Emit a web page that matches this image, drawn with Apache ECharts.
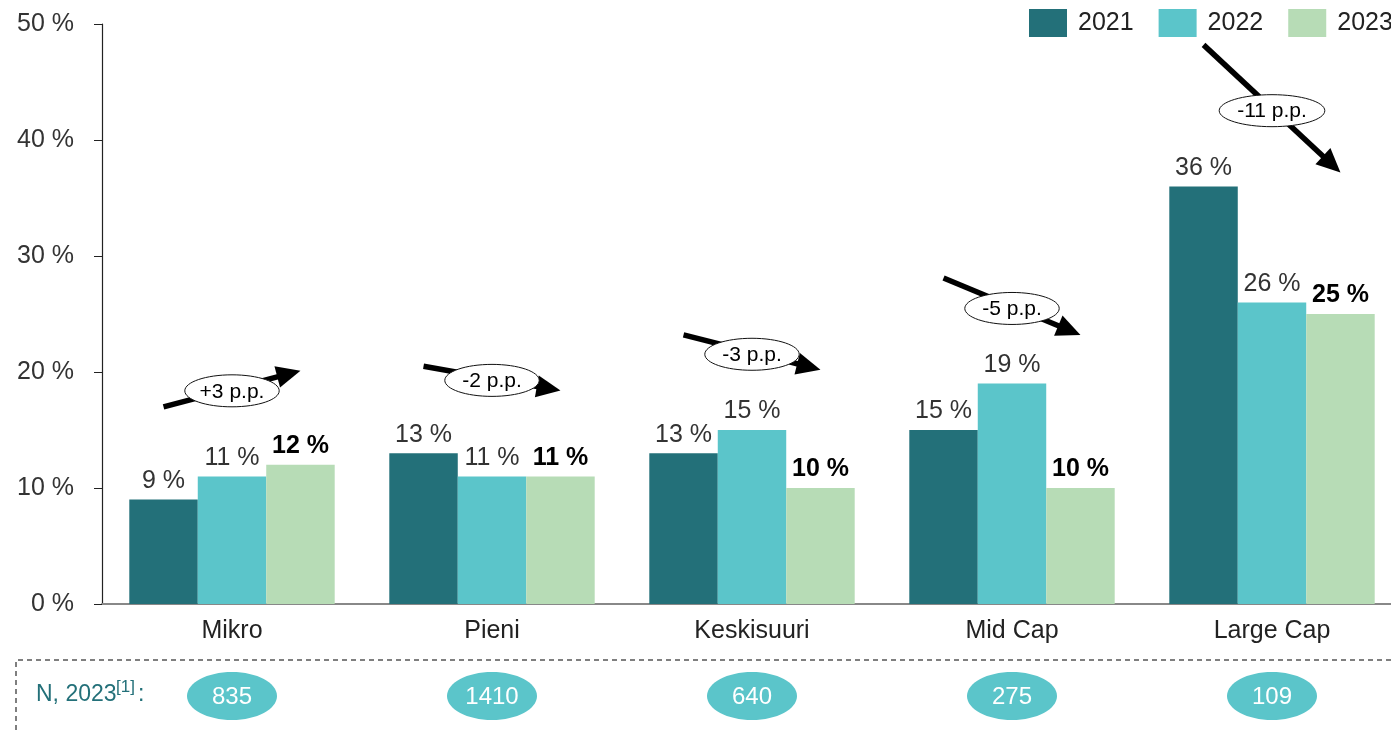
<!DOCTYPE html>
<html>
<head>
<meta charset="utf-8">
<script src="https://cdn.jsdelivr.net/npm/echarts@6/dist/echarts.min.js"></script>
<style>
html,body{margin:0;padding:0;background:#fff;overflow:hidden;width:1391px;height:730px;}
#chart{width:1402px;height:730px;}
</style>
</head>
<body>
<div id="chart"></div>
<script>
// ---- data ----
const categories = ['Mikro', 'Pieni', 'Keskisuuri', 'Mid Cap', 'Large Cap'];
const seriesNames = ['2021', '2022', '2023'];
const values2021 = [9, 13, 13, 15, 36];
const values2022 = [11, 11, 15, 19, 26];
const values2023 = [12, 11, 10, 10, 25];
const yTicks = [0, 10, 20, 30, 40, 50];
// change arrows: start value, end value, label (per category)
const arrowStart = [17.0, 20.5, 23.2, 28.1, 48.2];
const arrowEnd = [20.1, 18.4, 20.2, 23.2, 37.2];
const arrowLabels = ['+3 p.p.', '-2 p.p.', '-3 p.p.', '-5 p.p.', '-11 p.p.'];
const n2023 = [835, 1410, 640, 275, 109];
const nLabel = 'N, 2023';
const nSup = '[1]';

const colors = ['#237079', '#5bc5ca', '#b7dcb6'];
const FONT = 'Liberation Sans, Arial, sans-serif';

const chart = echarts.init(document.getElementById('chart'));

const CAT_GAP = 0.21;

function barSeries(name, data, idx) {
  const bold = idx === 2;
  return {
    name: name,
    type: 'bar',
    data: data,
    barGap: '0%',
    barCategoryGap: (CAT_GAP * 100) + '%',
    itemStyle: { color: colors[idx] },
    label: {
      show: true,
      position: 'top',
      distance: 6,
      formatter: '{c} %',
      fontFamily: FONT,
      fontSize: 25,
      fontWeight: bold ? 'bold' : 'normal',
      color: bold ? '#000' : '#333'
    }
  };
}

const arrowData = categories.map((c, i) => [i, arrowStart[i], arrowEnd[i]]);
const nData = categories.map((c, i) => [i, 0, n2023[i]]);

const option = {
  animation: false,
  backgroundColor: '#fff',
  textStyle: { fontFamily: FONT },
  legend: {
    data: seriesNames,
    left: 1029,
    top: 9,
    padding: 0,
    itemWidth: 38,
    itemHeight: 28,
    itemGap: 25,
    icon: 'rect',
    textStyle: { fontSize: 25, color: '#222', fontFamily: FONT, padding: [0, 0, 0, 6] }
  },
  grid: { left: 102, top: 24, bottom: 126, right: 0, containLabel: false },
  xAxis: {
    type: 'category',
    data: categories,
    axisLine: { lineStyle: { color: '#888', width: 2 } },
    axisTick: { show: false },
    axisLabel: { fontSize: 25, color: '#222', margin: 15, fontFamily: FONT }
  },
  yAxis: {
    type: 'value',
    min: yTicks[0],
    max: yTicks[yTicks.length - 1],
    interval: 10,
    axisLine: { show: true, lineStyle: { color: '#222', width: 1.2 } },
    axisTick: { show: true, inside: false, length: 8, lineStyle: { color: '#222' } },
    splitLine: { show: false },
    axisLabel: { fontSize: 25, color: '#333', margin: 28, formatter: '{value} %', fontFamily: FONT }
  },
  graphic: [
    {
      type: 'polyline',
      shape: { points: [[16, 730], [16, 660], [1391, 660]] },
      style: { stroke: '#555', lineWidth: 1.5, lineDash: [5, 4], fill: null }
    },
    {
      type: 'text', left: 36, top: 683,
      style: { text: nLabel, fontSize: 23, fill: '#237079', fontFamily: FONT }
    },
    {
      type: 'text', left: 116, top: 679,
      style: { text: nSup, fontSize: 17, fill: '#237079', fontFamily: FONT }
    },
    {
      type: 'text', left: 138, top: 683,
      style: { text: ':', fontSize: 23, fill: '#237079', fontFamily: FONT }
    }
  ],
  series: [
    barSeries(seriesNames[0], values2021, 0),
    barSeries(seriesNames[1], values2022, 1),
    barSeries(seriesNames[2], values2023, 2),
    {
      name: 'arrows',
      type: 'custom',
      data: arrowData,
      encode: { x: 0, y: 1 },
      clip: false,
      z: 5,
      renderItem: function (params, api) {
        const i = api.value(0);
        const p0 = api.coord([i, api.value(1)]);
        const p1 = api.coord([i, api.value(2)]);
        const bw = api.size([1, 0])[0];
        const off = bw * (1 - CAT_GAP) / 3;
        const x0 = p0[0] - off, y0 = p0[1];
        const x1 = p1[0] + off, y1 = p1[1];
        const dx = x1 - x0, dy = y1 - y0;
        const len = Math.sqrt(dx * dx + dy * dy);
        const ux = dx / len, uy = dy / len;
        const head = 24, hw = 11;
        const bx = x1 - ux * head, by = y1 - uy * head;
        const px = -uy, py = ux;
        const txt = arrowLabels[params.dataIndex];
        const rx = 8 + 5.6 * txt.length, ry = 16;
        const mx = (x0 + x1) / 2, my = (y0 + y1) / 2 + 2;
        return {
          type: 'group',
          children: [
            { type: 'line', shape: { x1: x0, y1: y0, x2: bx + ux * 2, y2: by + uy * 2 },
              style: { stroke: '#000', lineWidth: 5.5 } },
            { type: 'polygon', shape: { points: [[x1, y1], [bx + px * hw, by + py * hw], [bx - px * hw, by - py * hw]] },
              style: { fill: '#000' } },
            { type: 'ellipse', shape: { cx: mx, cy: my, rx: rx, ry: ry },
              style: { fill: '#fff', stroke: '#111', lineWidth: 1 } },
            { type: 'text', x: mx, y: my + 1,
              style: { text: txt, fontSize: 21, fill: '#000', align: 'center', verticalAlign: 'middle', fontFamily: FONT } }
          ]
        };
      }
    },
    {
      name: 'n',
      type: 'custom',
      data: nData,
      encode: { x: 0, y: 1 },
      clip: false,
      renderItem: function (params, api) {
        const i = api.value(0);
        const p = api.coord([i, 0]);
        const cy = 696;
        return {
          type: 'group',
          children: [
            { type: 'ellipse', shape: { cx: p[0], cy: cy, rx: 45, ry: 24 },
              style: { fill: '#5bc5ca' } },
            { type: 'text', x: p[0], y: cy + 1,
              style: { text: String(api.value(2)), fontSize: 24, fill: '#fff', align: 'center', verticalAlign: 'middle', fontFamily: FONT } }
          ]
        };
      }
    }
  ]
};

chart.setOption(option);
</script>
</body>
</html>
